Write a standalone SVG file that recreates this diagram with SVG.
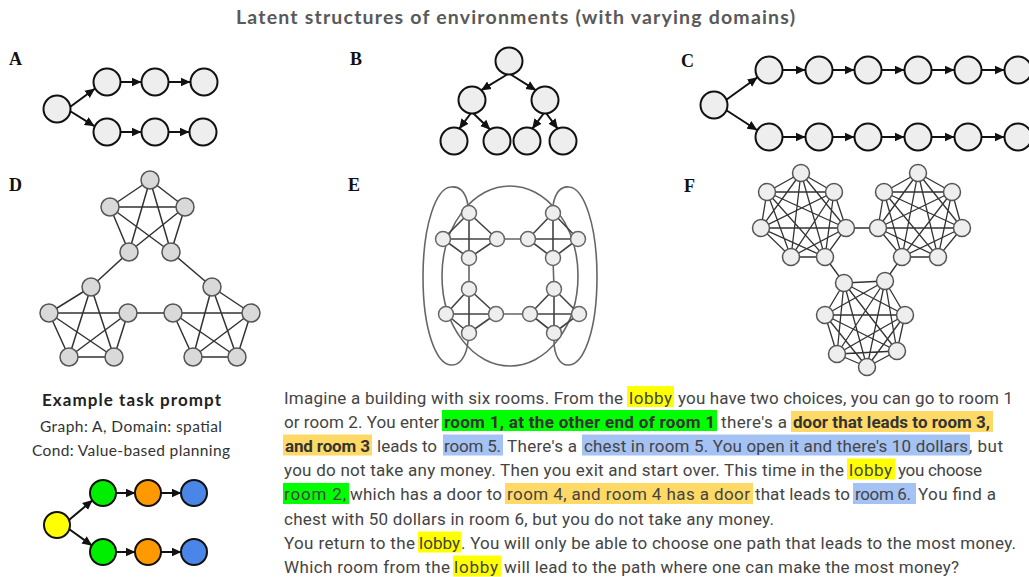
<svg xmlns="http://www.w3.org/2000/svg" width="1029" height="577" viewBox="0 0 1029 577">
  <defs>
    <marker id="ah" markerWidth="10" markerHeight="10" refX="9.5" refY="5" orient="auto" markerUnits="userSpaceOnUse">
      <path d="M0,0.5 L10,5 L0,9.5 Z" fill="#111"/>
    </marker>
    <style>
      .ttl { font-family: Lato, "Liberation Sans", sans-serif; font-weight: bold; font-size: 19.5px; fill: #595959; }
      .lbl { font-family: "Liberation Serif", serif; font-weight: bold; font-size: 18px; fill: #111; }
      .arr { stroke: #111; stroke-width: 2; fill: none; marker-end: url(#ah); }
      .tn circle { fill: #eeeeee; stroke: #111; stroke-width: 2; }
      .dn circle { fill: #d9d9d9; stroke: #555; stroke-width: 1.5; }
      .en circle { fill: #eeeeee; stroke: #666; stroke-width: 1.5; }
      .fn circle { fill: #eeeeee; stroke: #555; stroke-width: 1.5; }
      .de { stroke: #333; stroke-width: 1.5; fill: none; }
      .ee { stroke: #444; stroke-width: 1.6; fill: none; }
      .el { stroke: #666; stroke-width: 1.6; fill: none; }
      .fe { stroke: #333; stroke-width: 1.3; fill: none; }
      .h1 { font-family: Lato, "Liberation Sans", sans-serif; font-weight: bold; font-size: 17px; fill: #222; }
      .h2 { font-family: Lato, "Liberation Sans", sans-serif; font-size: 15.5px; fill: #333; }
      .p { font-family: Roboto, "Liberation Sans", sans-serif; font-size: 17px; fill: #444; }
      .pb { font-family: Roboto, "Liberation Sans", sans-serif; font-size: 17px; font-weight: bold; fill: #333; }
      .hy { fill: #ffff00; }
      .hg { fill: #00ff00; }
      .ho { fill: #ffd966; }
      .hb { fill: #a4c2f4; }
    </style>
  </defs>

  <rect width="1029" height="577" fill="#ffffff"/>

  <text class="ttl" x="236" y="24" textLength="559">Latent structures of environments (with varying domains)</text>

  <!-- panel letters -->
  <text class="lbl" x="9" y="65">A</text>
  <text class="lbl" x="350" y="65">B</text>
  <text class="lbl" x="681" y="67">C</text>
  <text class="lbl" x="9" y="191">D</text>
  <text class="lbl" x="348" y="191">E</text>
  <text class="lbl" x="684" y="192">F</text>

  <!-- connectors -->
  <g id="connectors">
    <!-- A -->
    <line class="arr" x1="70" y1="107" x2="94.7" y2="88.7"/>
    <line class="arr" x1="70" y1="111" x2="94.3" y2="126.1"/>
    <line class="arr" x1="121" y1="82" x2="141" y2="82"/>
    <line class="arr" x1="169" y1="82" x2="190" y2="82"/>
    <line class="arr" x1="121" y1="132" x2="141" y2="132"/>
    <line class="arr" x1="169" y1="132" x2="189" y2="132"/>
    <!-- B -->
    <line class="arr" x1="508" y1="74" x2="481.3" y2="90.2"/>
    <line class="arr" x1="510" y1="74" x2="535.7" y2="90.2"/>
    <line class="arr" x1="471" y1="113" x2="459.4" y2="128.6"/>
    <line class="arr" x1="473" y1="113" x2="490" y2="129.5"/>
    <line class="arr" x1="544" y1="113" x2="532.4" y2="128.6"/>
    <line class="arr" x1="546" y1="113" x2="557.6" y2="128.6"/>
    <!-- C -->
    <line class="arr" x1="726" y1="100" x2="757.2" y2="77.5"/>
    <line class="arr" x1="726" y1="110" x2="756.9" y2="130"/>
    <line class="arr" x1="783" y1="70" x2="805" y2="70"/>
    <line class="arr" x1="833" y1="70" x2="854" y2="70"/>
    <line class="arr" x1="882" y1="70" x2="904" y2="70"/>
    <line class="arr" x1="932" y1="70" x2="954" y2="70"/>
    <line class="arr" x1="982" y1="70" x2="1004" y2="70"/>
    <line class="arr" x1="783" y1="137" x2="805" y2="137"/>
    <line class="arr" x1="833" y1="137" x2="854" y2="137"/>
    <line class="arr" x1="882" y1="137" x2="904" y2="137"/>
    <line class="arr" x1="932" y1="137" x2="954" y2="137"/>
    <line class="arr" x1="982" y1="137" x2="1004" y2="137"/>
    <!-- D -->
    <path class="de" d="M150 180L110 207M150 180L185 207M150 180L129 252M150 180L171 252M110 207L185 207M110 207L129 252M110 207L171 252M185 207L129 252M185 207L171 252"/>
    <path class="de" d="M91 287L49 313M91 287L69 357M91 287L114 357M49 313L128 313M49 313L69 357M49 313L114 357M128 313L69 357M128 313L114 357M69 357L114 357"/>
    <path class="de" d="M212 287L251 313M212 287L193 357M212 287L237 357M173 313L251 313M173 313L193 357M173 313L237 357M251 313L193 357M251 313L237 357M193 357L237 357"/>
    <path class="de" d="M129 252L91 287M171 252L212 287M128 313L173 313"/>
    <!-- E -->
    <ellipse class="el" cx="510" cy="276" rx="68" ry="90"/>
    <path class="el" d="M468,206 C466,190 458,186 451,187 C436,188 423,225 423,277 C423,330 436,364 451,365 C460,366 467,355 468,341"/>
    <path class="el" d="M553,206 C555,190 563,186 569,187 C584,188 597,225 597,277 C597,330 584,364 569,365 C560,366 554,355 554,341"/>
    <path class="ee" d="M469 213L443 239M469 213L497 239M469 213L469 258M443 239L497 239M443 239L469 258M497 239L469 258"/>
    <path class="ee" d="M553 213L528 239M553 213L578 239M553 213L553 258M528 239L578 239M528 239L553 258M578 239L553 258"/>
    <path class="ee" d="M469 289L446 314M469 289L496 314M469 289L469 333M446 314L496 314M446 314L469 333M496 314L469 333"/>
    <path class="ee" d="M554 289L530 314M554 289L579 314M554 289L554 333M530 314L579 314M530 314L554 333M579 314L554 333"/>
    <path class="el" d="M497 239L528 239M469 258L469 289M553 258L554 289M496 314L530 314"/>
    <!-- F -->
    <path class="fe" d="M801 173L767 192M801 173L834 192M801 173L761 228M801 173L846 228M801 173L791 257M801 173L825 257M767 192L834 192M767 192L761 228M767 192L846 228M767 192L791 257M767 192L825 257M834 192L761 228M834 192L846 228M834 192L791 257M834 192L825 257M761 228L846 228M761 228L791 257M761 228L825 257M846 228L791 257M846 228L825 257M791 257L825 257"/>
    <path class="fe" d="M918 173L884 192M918 173L952 192M918 173L878 228M918 173L962 228M918 173L902 257M918 173L938 257M884 192L952 192M884 192L878 228M884 192L962 228M884 192L902 257M884 192L938 257M952 192L878 228M952 192L962 228M952 192L902 257M952 192L938 257M878 228L962 228M878 228L902 257M878 228L938 257M962 228L902 257M962 228L938 257M902 257L938 257"/>
    <path class="fe" d="M844 283L885 281M844 283L825 315M844 283L905 315M844 283L837 354M844 283L897 351M844 283L867 367M885 281L825 315M885 281L905 315M885 281L837 354M885 281L897 351M885 281L867 367M825 315L905 315M825 315L837 354M825 315L897 351M825 315L867 367M905 315L837 354M905 315L897 351M905 315L867 367M837 354L897 351M837 354L867 367M897 351L867 367"/>
    <path class="fe" d="M846 228L878 228M825 257L844 283M902 257L885 281"/>
    <!-- example graph -->
    <line class="arr" x1="69" y1="520" x2="92.3" y2="500.4"/>
    <line class="arr" x1="69" y1="529" x2="91.8" y2="545.4"/>
    <line class="arr" x1="116" y1="493" x2="135" y2="493"/>
    <line class="arr" x1="161" y1="493" x2="181" y2="493"/>
    <line class="arr" x1="116" y1="552" x2="135" y2="552"/>
    <line class="arr" x1="161" y1="552" x2="181" y2="552"/>
  </g>

  <!-- graph A nodes -->
  <g id="a0" class="tn"><circle cx="57" cy="109" r="13.5"/></g>
  <g id="a1" class="tn"><circle cx="107" cy="82" r="13.5"/></g>
  <g id="a2" class="tn"><circle cx="155" cy="82" r="13.5"/></g>
  <g id="a3" class="tn"><circle cx="204" cy="82" r="13.5"/></g>
  <g id="a4" class="tn"><circle cx="107" cy="132" r="13.5"/></g>
  <g id="a5" class="tn"><circle cx="155" cy="132" r="13.5"/></g>
  <g id="a6" class="tn"><circle cx="203" cy="132" r="13.5"/></g>

  <!-- graph B nodes -->
  <g id="b0" class="tn"><circle cx="509" cy="61" r="13.5"/></g>
  <g id="b1" class="tn"><circle cx="472" cy="100" r="13.5"/></g>
  <g id="b2" class="tn"><circle cx="545" cy="100" r="13.5"/></g>
  <g id="b3" class="tn"><circle cx="454" cy="141" r="13.5"/></g>
  <g id="b4" class="tn"><circle cx="497" cy="141" r="13.5"/></g>
  <g id="b5" class="tn"><circle cx="527" cy="141" r="13.5"/></g>
  <g id="b6" class="tn"><circle cx="563" cy="141" r="13.5"/></g>

  <!-- graph C nodes -->
  <g id="c0" class="tn"><circle cx="714" cy="105" r="13.5"/></g>
  <g id="c1" class="tn"><circle cx="769" cy="70" r="13.5"/></g>
  <g id="c2" class="tn"><circle cx="819" cy="70" r="13.5"/></g>
  <g id="c3" class="tn"><circle cx="868" cy="70" r="13.5"/></g>
  <g id="c4" class="tn"><circle cx="918" cy="70" r="13.5"/></g>
  <g id="c5" class="tn"><circle cx="968" cy="70" r="13.5"/></g>
  <g id="c6" class="tn"><circle cx="1018" cy="70" r="13.5"/></g>
  <g id="c7" class="tn"><circle cx="769" cy="137" r="13.5"/></g>
  <g id="c8" class="tn"><circle cx="819" cy="137" r="13.5"/></g>
  <g id="c9" class="tn"><circle cx="868" cy="137" r="13.5"/></g>
  <g id="c10" class="tn"><circle cx="918" cy="137" r="13.5"/></g>
  <g id="c11" class="tn"><circle cx="968" cy="137" r="13.5"/></g>
  <g id="c12" class="tn"><circle cx="1018" cy="137" r="13.5"/></g>

  <!-- graph D nodes -->
  <g id="d-t1" class="dn"><circle cx="150" cy="180" r="9"/></g>
  <g id="d-t2" class="dn"><circle cx="110" cy="207" r="9"/></g>
  <g id="d-t3" class="dn"><circle cx="185" cy="207" r="9"/></g>
  <g id="d-t4" class="dn"><circle cx="129" cy="252" r="9"/></g>
  <g id="d-t5" class="dn"><circle cx="171" cy="252" r="9"/></g>
  <g id="d-l1" class="dn"><circle cx="91" cy="287" r="9"/></g>
  <g id="d-l2" class="dn"><circle cx="49" cy="313" r="9"/></g>
  <g id="d-l3" class="dn"><circle cx="128" cy="313" r="9"/></g>
  <g id="d-l4" class="dn"><circle cx="69" cy="357" r="9"/></g>
  <g id="d-l5" class="dn"><circle cx="114" cy="357" r="9"/></g>
  <g id="d-r1" class="dn"><circle cx="212" cy="287" r="9"/></g>
  <g id="d-r2" class="dn"><circle cx="173" cy="313" r="9"/></g>
  <g id="d-r3" class="dn"><circle cx="251" cy="313" r="9"/></g>
  <g id="d-r4" class="dn"><circle cx="193" cy="357" r="9"/></g>
  <g id="d-r5" class="dn"><circle cx="237" cy="357" r="9"/></g>

  <!-- graph E nodes -->
  <g id="e-a1" class="en"><circle cx="469" cy="213" r="7.5"/></g>
  <g id="e-a2" class="en"><circle cx="443" cy="239" r="7.5"/></g>
  <g id="e-a3" class="en"><circle cx="497" cy="239" r="7.5"/></g>
  <g id="e-a4" class="en"><circle cx="469" cy="258" r="7.5"/></g>
  <g id="e-b1" class="en"><circle cx="553" cy="213" r="7.5"/></g>
  <g id="e-b2" class="en"><circle cx="528" cy="239" r="7.5"/></g>
  <g id="e-b3" class="en"><circle cx="578" cy="239" r="7.5"/></g>
  <g id="e-b4" class="en"><circle cx="553" cy="258" r="7.5"/></g>
  <g id="e-c1" class="en"><circle cx="469" cy="289" r="7.5"/></g>
  <g id="e-c2" class="en"><circle cx="446" cy="314" r="7.5"/></g>
  <g id="e-c3" class="en"><circle cx="496" cy="314" r="7.5"/></g>
  <g id="e-c4" class="en"><circle cx="469" cy="333" r="7.5"/></g>
  <g id="e-d1" class="en"><circle cx="554" cy="289" r="7.5"/></g>
  <g id="e-d2" class="en"><circle cx="530" cy="314" r="7.5"/></g>
  <g id="e-d3" class="en"><circle cx="579" cy="314" r="7.5"/></g>
  <g id="e-d4" class="en"><circle cx="554" cy="333" r="7.5"/></g>

  <!-- graph F nodes -->
  <g id="f-l1" class="fn"><circle cx="801" cy="173" r="8.5"/></g>
  <g id="f-l2" class="fn"><circle cx="767" cy="192" r="8.5"/></g>
  <g id="f-l3" class="fn"><circle cx="834" cy="192" r="8.5"/></g>
  <g id="f-l4" class="fn"><circle cx="761" cy="228" r="8.5"/></g>
  <g id="f-l5" class="fn"><circle cx="846" cy="228" r="8.5"/></g>
  <g id="f-l6" class="fn"><circle cx="791" cy="257" r="8.5"/></g>
  <g id="f-l7" class="fn"><circle cx="825" cy="257" r="8.5"/></g>
  <g id="f-r1" class="fn"><circle cx="918" cy="173" r="8.5"/></g>
  <g id="f-r2" class="fn"><circle cx="884" cy="192" r="8.5"/></g>
  <g id="f-r3" class="fn"><circle cx="952" cy="192" r="8.5"/></g>
  <g id="f-r4" class="fn"><circle cx="878" cy="228" r="8.5"/></g>
  <g id="f-r5" class="fn"><circle cx="962" cy="228" r="8.5"/></g>
  <g id="f-r6" class="fn"><circle cx="902" cy="257" r="8.5"/></g>
  <g id="f-r7" class="fn"><circle cx="938" cy="257" r="8.5"/></g>
  <g id="f-b1" class="fn"><circle cx="844" cy="283" r="8.5"/></g>
  <g id="f-b2" class="fn"><circle cx="885" cy="281" r="8.5"/></g>
  <g id="f-b3" class="fn"><circle cx="825" cy="315" r="8.5"/></g>
  <g id="f-b4" class="fn"><circle cx="905" cy="315" r="8.5"/></g>
  <g id="f-b5" class="fn"><circle cx="837" cy="354" r="8.5"/></g>
  <g id="f-b6" class="fn"><circle cx="897" cy="351" r="8.5"/></g>
  <g id="f-b7" class="fn"><circle cx="867" cy="367" r="8.5"/></g>

  <!-- example task prompt -->
  <text class="h1" x="42" y="406" textLength="179">Example task prompt</text>
  <text class="h2" x="40" y="432" textLength="182">Graph: A, Domain: spatial</text>
  <text class="h2" x="32" y="456" textLength="198">Cond: Value-based planning</text>

  <g id="x-lobby"><circle cx="57" cy="525" r="13" fill="#ffff00" stroke="#111" stroke-width="2"/></g>
  <g id="x-room1"><circle cx="103" cy="493" r="13" fill="#00ee00" stroke="#111" stroke-width="2"/></g>
  <g id="x-room3"><circle cx="148" cy="493" r="13" fill="#ff9900" stroke="#111" stroke-width="2"/></g>
  <g id="x-room5"><circle cx="194" cy="493" r="13" fill="#4a86e8" stroke="#111" stroke-width="2"/></g>
  <g id="x-room2"><circle cx="103" cy="552" r="13" fill="#00ee00" stroke="#111" stroke-width="2"/></g>
  <g id="x-room4"><circle cx="148" cy="552" r="13" fill="#ff9900" stroke="#111" stroke-width="2"/></g>
  <g id="x-room6"><circle cx="194" cy="552" r="13" fill="#4a86e8" stroke="#111" stroke-width="2"/></g>

  <!-- prompt text with highlights -->
  <g id="prompt">
    <rect class="hy" x="627" y="386" width="47" height="21"/>
    <rect class="hg" x="442" y="410" width="275" height="21"/>
    <rect class="ho" x="791" y="411" width="202" height="21"/>
    <rect class="ho" x="283" y="434.5" width="89" height="21"/>
    <rect class="hb" x="443" y="434.5" width="60" height="21"/>
    <rect class="hb" x="582" y="434.5" width="388" height="21"/>
    <rect class="hy" x="847" y="458.5" width="48" height="21"/>
    <rect class="hg" x="283" y="483" width="66" height="21"/>
    <rect class="ho" x="505" y="483" width="248" height="21"/>
    <rect class="hb" x="853" y="483" width="63" height="21"/>
    <rect class="hy" x="418" y="531.5" width="43" height="21"/>
    <rect class="hy" x="453" y="555.5" width="48" height="21"/>

    <text class="p" x="284" y="403.5" textLength="339">Imagine a building with six rooms. From the</text>
    <text class="p" x="629" y="403.5" textLength="43">lobby</text>
    <text class="p" x="678" y="403.5" textLength="335">you have two choices, you can go to room 1</text>

    <text class="p" x="284" y="427.5" textLength="155">or room 2. You enter</text>
    <text class="pb" x="444" y="427.5" textLength="271">room 1, at the other end of room 1</text>
    <text class="p" x="721" y="427.5" textLength="66">there's a</text>
    <text class="pb" x="793" y="427.5" textLength="197">door that leads to room 3,</text>

    <text class="pb" x="285" y="451.5" textLength="85">and room 3</text>
    <text class="p" x="377" y="451.5" textLength="60">leads to</text>
    <text class="p" x="444" y="451.5" textLength="57">room 5.</text>
    <text class="p" x="507" y="451.5" textLength="70">There's a</text>
    <text class="p" x="584" y="451.5" textLength="384">chest in room 5. You open it and there's 10 dollars</text>
    <text class="p" x="969" y="451.5" textLength="34">, but</text>

    <text class="p" x="284" y="475.5" textLength="560">you do not take any money. Then you exit and start over. This time in the</text>
    <text class="p" x="849" y="475.5" textLength="43">lobby</text>
    <text class="p" x="898" y="475.5" textLength="84">you choose</text>

    <text class="p" x="284" y="500" textLength="62">room 2,</text>
    <text class="p" x="350" y="500" textLength="152">which has a door to</text>
    <text class="p" x="507" y="500" textLength="243">room 4, and room 4 has a door</text>
    <text class="p" x="755" y="500" textLength="95">that leads to</text>
    <text class="p" x="855" y="500" textLength="56">room 6.</text>
    <text class="p" x="918" y="500" textLength="78">You find a</text>

    <text class="p" x="284" y="524.5" textLength="490">chest with 50 dollars in room 6, but you do not take any money.</text>

    <text class="p" x="284" y="548.5" textLength="131">You return to the</text>
    <text class="p" x="419" y="548.5" textLength="41">lobby</text>
    <text class="p" x="461" y="548.5" textLength="555">. You will only be able to choose one path that leads to the most money.</text>

    <text class="p" x="284" y="572.5" textLength="166">Which room from the</text>
    <text class="p" x="454" y="572.5" textLength="44">lobby</text>
    <text class="p" x="504" y="572.5" textLength="455">will lead to the path where one can make the most money?</text>
  </g>
</svg>
